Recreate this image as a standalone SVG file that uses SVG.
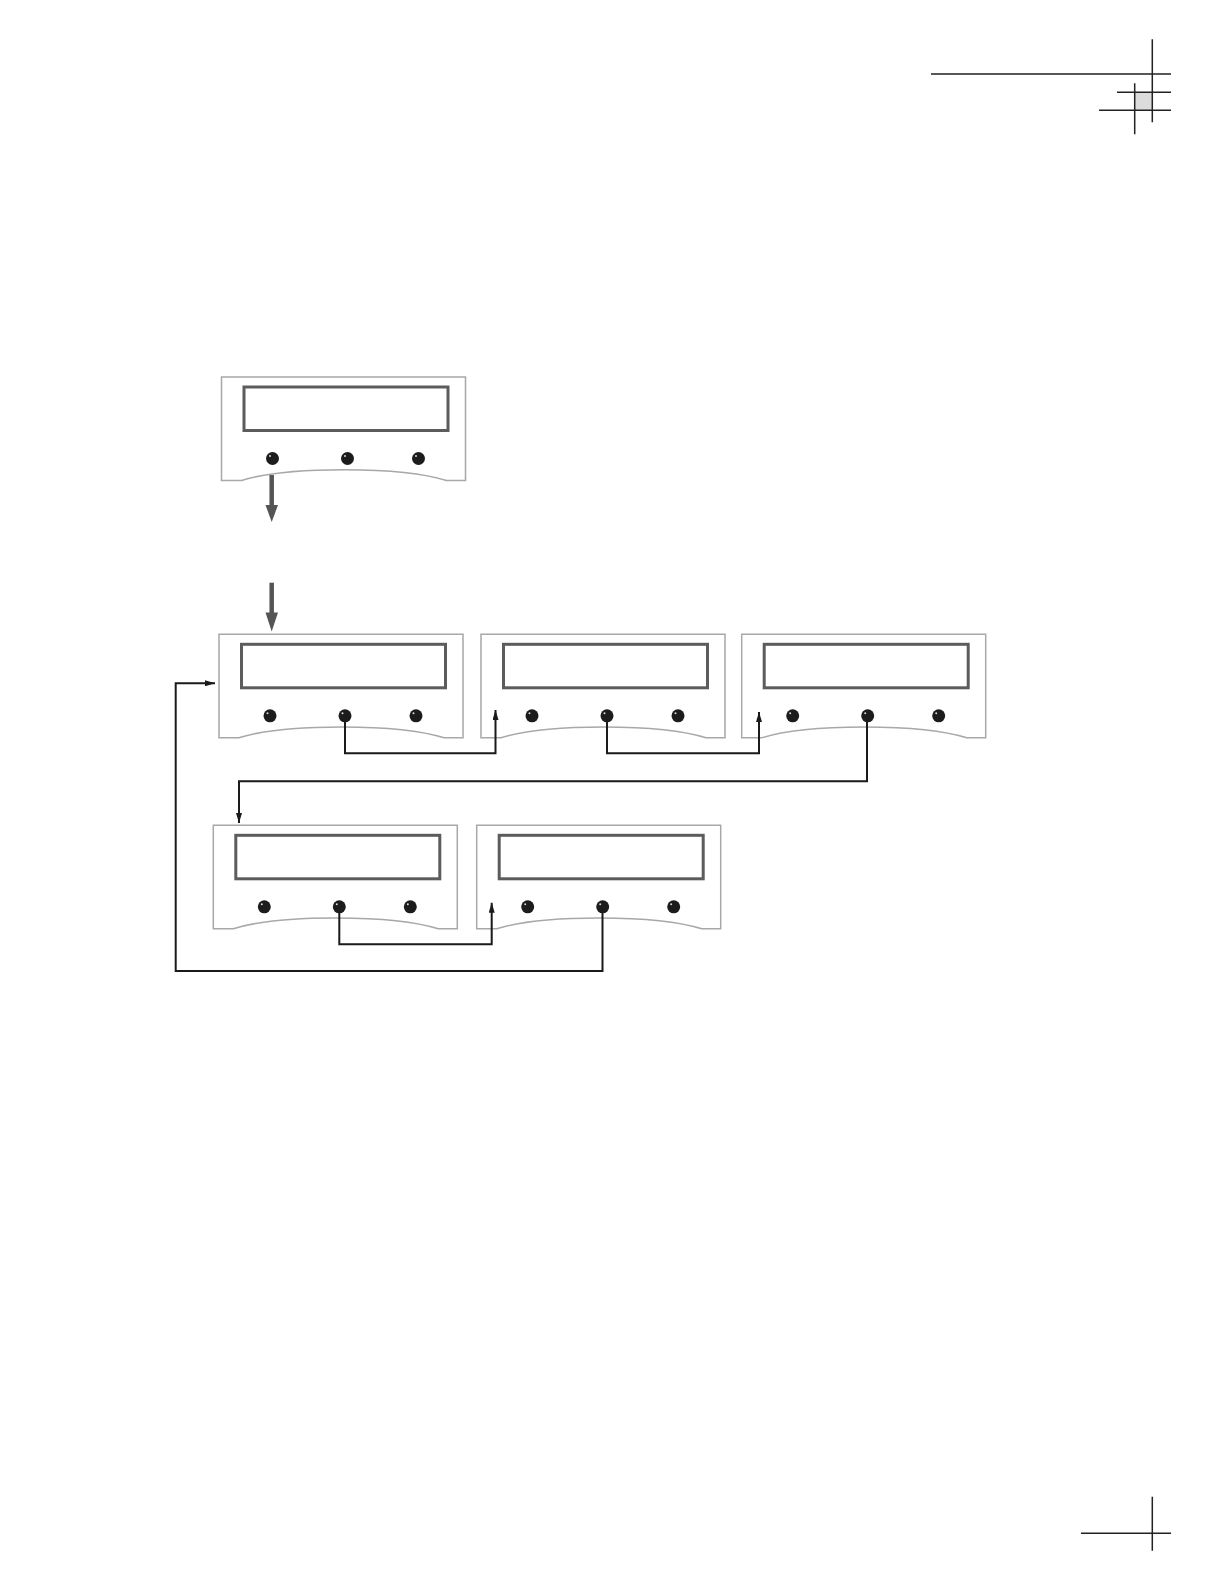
<svg xmlns="http://www.w3.org/2000/svg" xmlns:xlink="http://www.w3.org/1999/xlink" width="1224" height="1584" viewBox="0 0 1224 1584">
<style>
.body{fill:#fff;stroke:#a8a8a8;stroke-width:1.5}
.screen{fill:none;stroke:#5c5c5c;stroke-width:3}
.btn{fill:#1c1c1c}
.hl{fill:#d8d8d8}
.conn{fill:none;stroke:#1a1a1a;stroke-width:2}
.big{fill:none;stroke:#555;stroke-width:4.5}
.bighead{fill:#555}
.crop{stroke:#222;stroke-width:1.5;fill:none}
</style>
<defs>
<marker id="ah" markerUnits="userSpaceOnUse" markerWidth="10" markerHeight="6" refX="10" refY="3" orient="auto">
<path d="M0,0 L10,3 L0,6 z" fill="#1a1a1a"/>
</marker>
<g id="dev">
<path class="body" d="M0,0 H244 V103.5 H225 C180,89 65,89 20,103.5 H0 Z"/>
<rect class="screen" x="22.5" y="10" width="204" height="43.5"/>
<circle class="btn" cx="51" cy="81.5" r="6.5"/>
<circle class="btn" cx="126" cy="81.5" r="6.5"/>
<circle class="btn" cx="197" cy="81.5" r="6.5"/>
<circle class="hl" cx="48.5" cy="79" r="1"/>
<circle class="hl" cx="123.5" cy="79" r="1"/>
<circle class="hl" cx="194.5" cy="79" r="1"/>
</g>
</defs>
<g id="cropmarks">
<rect x="1134.7" y="92.3" width="17.6" height="18" fill="#dcdcdc"/>
<path class="crop" d="M931,74 H1171 M1152.3,39.3 V122.3 M1134.7,83.3 V134.3 M1117,92.3 H1171 M1099,110.3 H1171"/>
<path class="crop" d="M1081,1533.3 H1171 M1152.3,1496.7 V1550.7"/>
</g>
<g id="n1"><use xlink:href="#dev" transform="translate(221.5,377)"/></g>
<g id="n2"><use xlink:href="#dev" transform="translate(219,634.3)"/></g>
<g id="n3"><use xlink:href="#dev" transform="translate(481,634.3)"/></g>
<g id="n4"><use xlink:href="#dev" transform="translate(741.7,634.3)"/></g>
<g id="n5"><use xlink:href="#dev" transform="translate(213.3,825.3)"/></g>
<g id="n6"><use xlink:href="#dev" transform="translate(476.7,825.3)"/></g>
<g id="connectors">
<line class="big" x1="271.7" y1="475" x2="271.7" y2="506"/>
<polygon class="bighead" points="265.5,505 278,505 271.7,522"/>
<line class="big" x1="271.7" y1="582.7" x2="271.7" y2="614"/>
<polygon class="bighead" points="265.5,612.5 278,612.5 271.7,631.5"/>
<path class="conn" marker-end="url(#ah)" d="M345,722 V753.3 H495.5 V710"/>
<path class="conn" marker-end="url(#ah)" d="M607,722 V753.3 H759 V712"/>
<path class="conn" marker-end="url(#ah)" d="M867,722 V781.3 H239 V823"/>
<path class="conn" marker-end="url(#ah)" d="M339.3,913 V944.3 H491.7 V902.7"/>
<path class="conn" marker-end="url(#ah)" d="M602.5,913 V971 H175.7 V683.3 H215"/>
</g>
</svg>
